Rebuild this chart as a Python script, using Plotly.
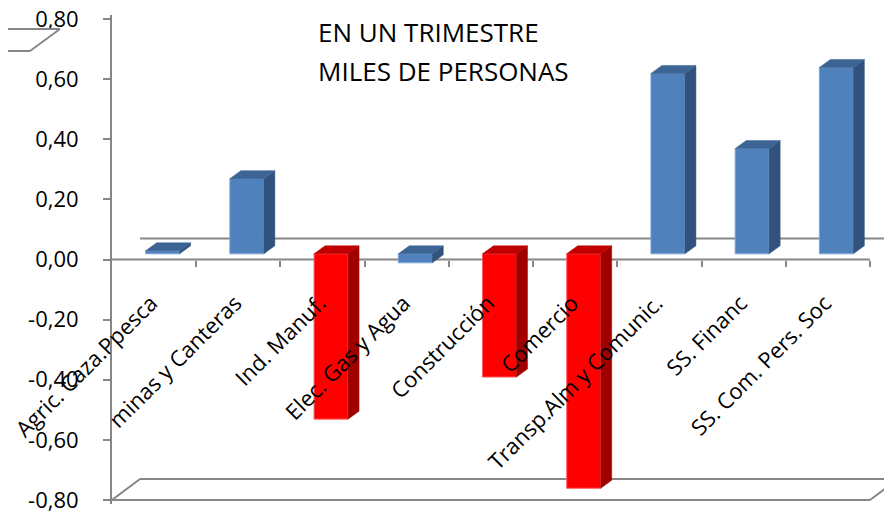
import numpy as np
import plotly.graph_objects as go

# ---------------- data ----------------
CATEGORIES = ["Agric. Caza.Ppesca", "minas y Canteras", "Ind. Manuf.", "Elec. Gas y Agua",
              "Construcción", "Comercio", "Transp.Alm y Comunic.", "SS. Financ",
              "SS. Com. Pers. Soc"]
VALUES = [0.01, 0.25, -0.55, -0.03, -0.41, -0.78, 0.60, 0.35, 0.62]
Y_TICKS = [-0.8, -0.6, -0.4, -0.2, 0.0, 0.2, 0.4, 0.6, 0.8]
Y_TICK_LABELS = ["-0,80", "-0,60", "-0,40", "-0,20", "0,00", "0,20", "0,40", "0,60", "0,80"]
TITLE_LINES = ["EN UN TRIMESTRE", "MILES DE PERSONAS"]

# ---------------- style ----------------
COLOR_GROUP = ["blue", "blue", "red", "blue", "red", "red", "blue", "blue", "blue"]
FRONT = {"blue": "#4F81BD", "red": "#FF0000"}
SIDE = {"blue": "#30527D", "red": "#A00000"}
TOP = {"blue": "#3C6494", "red": "#C00000"}
EDGE = {"blue": "#7FA6D6", "red": "#FF6060"}
AXIS_GRAY = "#868686"
FONT = "Open Sans"

W, H = 892, 514
BODY = 8                            # page body margin offset
PLOT_L, PLOT_T = 112, 15            # plot area corner in window pixels
PW, PH = 780, 489
ML, MT = PLOT_L - BODY, PLOT_T - BODY
MR, MB = W - ML - PW, H - MT - PH
CAT_PX = 84.22                      # pixels per category
Y_MIN, Y_MAX = -0.8, 0.8
Y_PAD = 4 / 300.6
YR = [Y_MIN - Y_PAD, Y_MAX + Y_PAD]
XR = [-0.5, -0.5 + PW / CAT_PX]
PX_Y = PH / (YR[1] - YR[0])


def dx(px):
    return px / CAT_PX


def dy(px):
    return px / PX_Y


def paper_x(px):
    return (px - PLOT_L) / PW


def paper_y(py):
    return (PLOT_T + PH - py) / PH


WALL_DX, WALL_DY = dx(28), dy(21)
BAR_SHIFT, BAR_BASE = dx(8.5), dy(5.7)
BAR_W = dx(34)
BAR_DX, BAR_DY = dx(11), dy(8)

n = len(CATEGORIES)
idx = np.arange(n)
xf = idx + BAR_SHIFT

fig = go.Figure()

# front faces
for grp in ["blue", "red"]:
    sel = [i for i in range(n) if COLOR_GROUP[i] == grp]
    fig.add_trace(go.Bar(
        x=[xf[i] for i in sel], y=[VALUES[i] for i in sel], base=BAR_BASE,
        width=BAR_W, marker=dict(color=FRONT[grp], line=dict(color=EDGE[grp], width=1)),
        hoverinfo="skip", showlegend=False))

# side and top faces
for grp in ["blue", "red"]:
    sx, sy, tx, ty = [], [], [], []
    for i in range(n):
        if COLOR_GROUP[i] != grp:
            continue
        v = VALUES[i]
        xl, xr = xf[i] - BAR_W / 2, xf[i] + BAR_W / 2
        y0, y1 = BAR_BASE, BAR_BASE + v
        sx += [xr, xr, xr + BAR_DX, xr + BAR_DX, xr, None]
        sy += [y0, y1, y1 + BAR_DY, y0 + BAR_DY, y0, None]
        yt = max(y0, y1)
        tx += [xl, xr, xr + BAR_DX, xl + BAR_DX, xl, None]
        ty += [yt, yt, yt + BAR_DY, yt + BAR_DY, yt, None]
    fig.add_trace(go.Scatter(x=sx, y=sy, mode="lines", fill="toself", fillcolor=SIDE[grp],
                             line=dict(width=0.5, color=SIDE[grp]), hoverinfo="skip",
                             showlegend=False))
    fig.add_trace(go.Scatter(x=tx, y=ty, mode="lines", fill="toself", fillcolor=TOP[grp],
                             line=dict(width=0.5, color=TOP[grp]), hoverinfo="skip",
                             showlegend=False))

# category labels on a free overlay axis
fig.add_trace(go.Scatter(x=[idx[0]], y=[0], xaxis="x2", mode="markers",
                         marker=dict(opacity=0), hoverinfo="skip", showlegend=False))

shapes = []
line = dict(color=AXIS_GRAY, width=2)
x_left, x_right = -0.5, n - 0.5
# front zero line
shapes.append(dict(type="line", xref="x", yref="y", x0=x_left, x1=x_right, y0=0, y1=0,
                   line=line, layer="below"))
# back zero line
shapes.append(dict(type="line", xref="x", yref="y", x0=x_left + WALL_DX, x1=XR[1] + 1,
                   y0=WALL_DY, y1=WALL_DY, line=line, layer="below"))
# floor
shapes.append(dict(type="line", xref="x", yref="y", x0=x_left, x1=x_right, y0=Y_MIN, y1=Y_MIN,
                   line=line, layer="below"))
shapes.append(dict(type="line", xref="x", yref="y", x0=x_left + WALL_DX, x1=XR[1] + 1,
                   y0=Y_MIN + WALL_DY, y1=Y_MIN + WALL_DY, line=line, layer="below"))
shapes.append(dict(type="line", xref="x", yref="y", x0=x_left, x1=x_left + WALL_DX,
                   y0=Y_MIN, y1=Y_MIN + WALL_DY, line=line, layer="below"))
shapes.append(dict(type="line", xref="x", yref="y", x0=x_right, x1=x_right + WALL_DX,
                   y0=Y_MIN, y1=Y_MIN + WALL_DY, line=line, layer="below"))
# partial box at top-left corner
for (a, b, c, d) in [(8, 29, 60, 29), (8, 51, 30, 51), (30, 51, 60, 29)]:
    shapes.append(dict(type="line", xref="paper", yref="paper",
                       x0=paper_x(a), y0=paper_y(b), x1=paper_x(c), y1=paper_y(d), line=line))

annotations = [
    dict(text=TITLE_LINES[0], xref="paper", yref="paper", x=paper_x(316), y=paper_y(32),
         xanchor="left", yanchor="middle", showarrow=False,
         font=dict(family=FONT, size=26, color="black")),
    dict(text=TITLE_LINES[1], xref="paper", yref="paper", x=paper_x(316), y=paper_y(71),
         xanchor="left", yanchor="middle", showarrow=False,
         font=dict(family=FONT, size=26, color="black")),
]

zero_pos = (0 - YR[0]) / (YR[1] - YR[0])

fig.update_layout(
    width=W, height=H,
    margin=dict(l=ML, r=MR, t=MT, b=MB, pad=0, autoexpand=False),
    paper_bgcolor="white", plot_bgcolor="white",
    font=dict(family=FONT, color="black"),
    barmode="overlay", showlegend=False,
    shapes=shapes, annotations=annotations,
    xaxis=dict(range=XR, showgrid=False, zeroline=False, showline=False,
               anchor="free", position=zero_pos, tickmode="array",
               tickvals=list(idx + 0.5), ticks="outside", ticklen=6, tickwidth=2,
               tickcolor=AXIS_GRAY, showticklabels=False, layer="below traces",
               fixedrange=True, automargin=False),
    xaxis2=dict(range=XR, overlaying="x", anchor="free", position=paper_y(285),
                side="bottom", tickmode="array", tickvals=list(idx - dx(3)),
                ticktext=CATEGORIES, tickangle=-45, ticks="", showline=False,
                showgrid=False, zeroline=False, automargin=False,
                ticklabeloverflow="allow",
                tickfont=dict(family=FONT, size=22, color="black")),
    yaxis=dict(range=YR, tickmode="array", tickvals=Y_TICKS, ticktext=Y_TICK_LABELS,
               ticks="outside", ticklen=7, tickwidth=2, tickcolor=AXIS_GRAY,
               showline=True, linewidth=2, linecolor=AXIS_GRAY, showgrid=False,
               zeroline=False, ticklabelstandoff=20, automargin=False,
               ticklabeloverflow="allow",
               tickfont=dict(family=FONT, size=22, color="black")),
)

fig.write_html("out.html")
